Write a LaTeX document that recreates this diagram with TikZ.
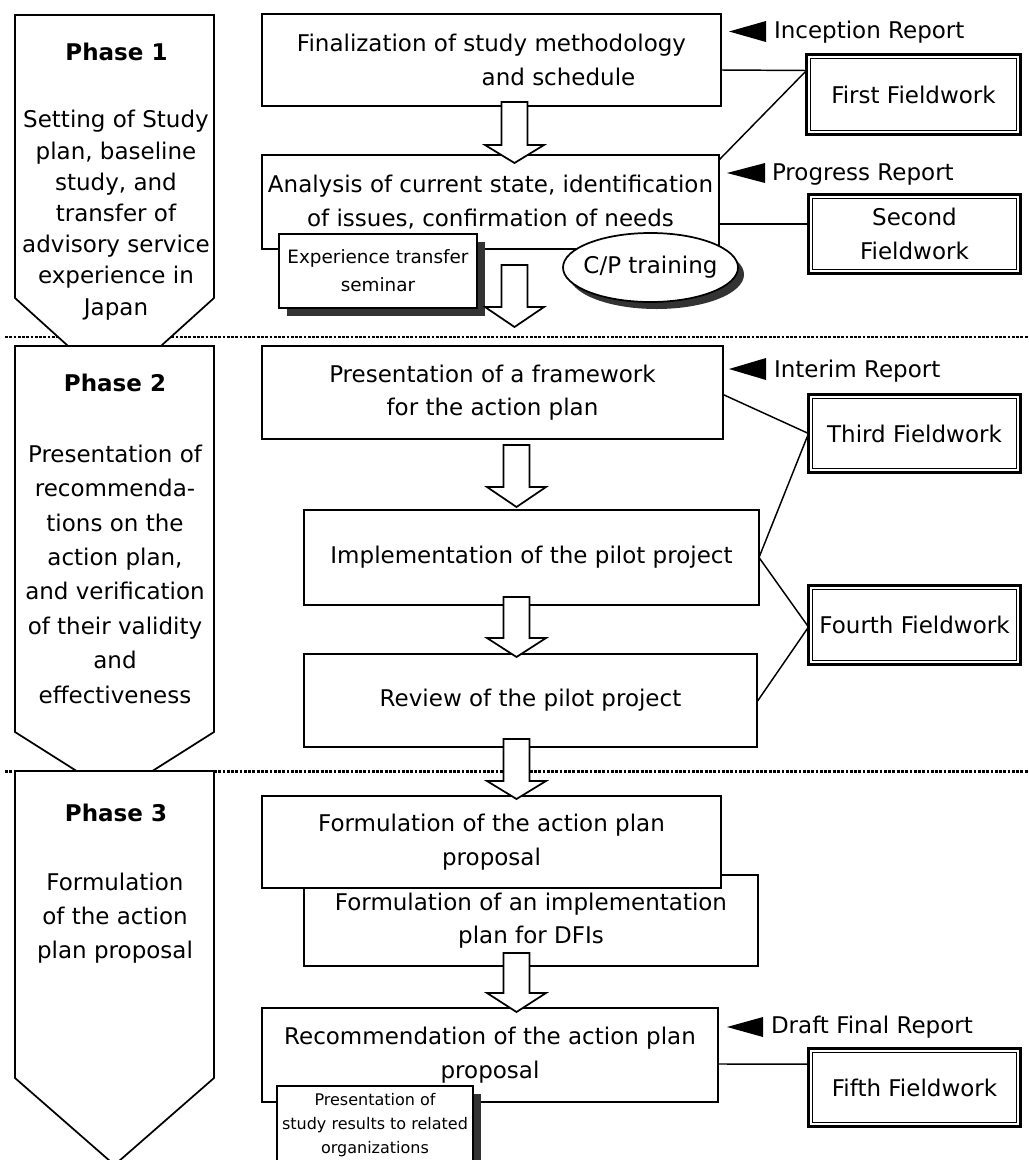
\documentclass[tikz,border=0pt]{standalone}
\usepackage{fontspec}
\setmainfont{DejaVu Sans}
\usetikzlibrary{shapes.geometric,calc}
\definecolor{shadowc}{RGB}{51,51,51}
\newcommand\pxu{0.75pt}
\begin{document}
\begin{tikzpicture}[x=0.75pt,y=-0.75pt,
  every node/.style={inner sep=0pt, outer sep=0pt},
  mainfont/.style={font=\fontsize{17.25pt}{25.1pt}\selectfont},
  stepbox/.style={draw, line width=1.3pt, fill=white, align=center, mainfont},
  field/.style={draw, line width=2.3pt, fill=white, align=center, mainfont},
  fieldinner/.style={line width=1.1pt},
  phaseshape/.style={draw, line width=1.3pt, fill=white, line join=miter},
  phasetitle/.style={font=\bfseries\fontsize{17.25pt}{20pt}\selectfont},
  phasetext/.style={align=center, anchor=north, font=\fontsize{17.25pt}{#1}\selectfont},
  conn/.style={line width=1.1pt},
  blockarrow/.style={draw, line width=1.3pt, fill=white, line join=miter},
  dotline/.style={line width=2pt, dash pattern=on 2.1pt off 1.1pt},
  report/.style={anchor=west, mainfont},
  tri/.style={fill=black},
  shadowed/.style={preaction={fill=shadowc, transform canvas={shift={(#1)}}}},
  pics/blkarrow/.style 2 args={code={
    \draw[blockarrow] (-13,0) -- (13,0) -- (13,#1) -- (29.5,#1) -- (0,#1+#2) -- (-29.5,#1) -- (-13,#1) -- cycle;}}
]
\useasboundingbox (0,0) rectangle (1028,1160);
\fill[white] (0,0) rectangle (1028,1160);

% dotted phase separators
\draw[dotline] (5,337) -- (1028,337);
\draw[dotline] (5,771.5) -- (1028,771.5);

% phase pentagons
\draw[phaseshape] (15,15) -- (214,15) -- (214,298) -- (114.5,388) -- (15,298) -- cycle;
\draw[phaseshape] (15,346) -- (214,346) -- (214,732) -- (114.5,795) -- (15,732) -- cycle;
\draw[phaseshape] (15,771) -- (214,771) -- (214,1078) -- (114.5,1165) -- (15,1078) -- cycle;

\node[phasetitle] (p1t) at (116.5,51.5) {Phase 1};
\node[phasetext=23.4pt] (p1d) at (116,110.5) {Setting of Study\\plan, baseline\\study, and\\transfer of\\advisory service\\experience in\\Japan};
\node[phasetitle] (p2t) at (115,383) {Phase 2};
\node[phasetext=25.8pt] (p2d) at (115,444.8) {Presentation of\\recommenda-\\tions on the\\action plan,\\and verification\\of their validity\\and\\effectiveness};
\node[phasetitle] (p3t) at (116,812.5) {Phase 3};
\node[phasetext=25.5pt] (p3d) at (115,873.5) {Formulation\\of the action\\plan proposal};

% main step boxes
\node[stepbox, minimum width=459*\pxu, minimum height=92*\pxu] (A) at (491.5,60)
  {Finalization of study methodology\\\hspace*{100.5pt}and schedule};
\node[stepbox, minimum width=457*\pxu, minimum height=94*\pxu] (B) at (490.5,202)
  {Analysis of current state, identification\\of issues, confirmation of needs};
\node[stepbox, minimum width=461*\pxu, minimum height=93*\pxu] (C) at (492.5,392.5)
  {Presentation of a framework\\for the action plan};
\node[stepbox, minimum width=455*\pxu, minimum height=95*\pxu] (D) at (531.5,557.5)
  {Implementation of the pilot project};
\node[stepbox, minimum width=453*\pxu, minimum height=93*\pxu] (E) at (530.5,700.5)
  {Review of the pilot project};
\node[stepbox, minimum width=454*\pxu, minimum height=91*\pxu] (G) at (531,920.5)
  {Formulation of an implementation\\plan for DFIs};
\node[stepbox, minimum width=459*\pxu, minimum height=92*\pxu] (F) at (491.5,842)
  {Formulation of the action plan\\proposal};
\node[stepbox, minimum width=456*\pxu, minimum height=94*\pxu] (H) at (490,1055)
  {Recommendation of the action plan\\proposal};

% side events
\node[stepbox, shadowed={6pt,-6pt}, minimum width=198*\pxu, minimum height=74*\pxu,
  font=\fontsize{13.8pt}{21pt}\selectfont] (exp) at (378,271) {Experience transfer\\seminar};
\node[ellipse, draw, line width=1.3pt, fill=white, shadowed={4.5pt,-5.25pt},
  minimum width=175*\pxu, minimum height=69*\pxu, mainfont] (cp) at (650.5,267.5) {\makebox[0pt]{C/P training}};
\node[stepbox, shadowed={6pt,-6pt}, minimum width=196*\pxu, minimum height=78*\pxu,
  font=\fontsize{12pt}{18pt}\selectfont] (pres) at (375,1125) {Presentation of\\study results to related\\organizations};

% block arrows
\pic at (514.5,102) {blkarrow={43}{18}};
\pic at (514.5,265) {blkarrow={42}{20}};
\pic at (516.5,445) {blkarrow={42}{20}};
\pic at (516.5,597) {blkarrow={41}{19}};
\pic at (516.5,739) {blkarrow={42}{18}};
\pic at (516.5,953) {blkarrow={40}{19}};

% fieldwork boxes
\node[field, minimum width=214*\pxu, minimum height=80*\pxu] (F1) at (913.5,94.5) {First Fieldwork};
\node[field, minimum width=212*\pxu, minimum height=79*\pxu] (F2) at (914.5,234) {Second\\Fieldwork};
\node[field, minimum width=212*\pxu, minimum height=78*\pxu] (F3) at (914.5,433.5) {Third Fieldwork};
\node[field, minimum width=212*\pxu, minimum height=79*\pxu] (F4) at (914.5,625) {Fourth Fieldwork};
\node[field, minimum width=212*\pxu, minimum height=78*\pxu] (F5) at (914.5,1087.5) {Fifth Fieldwork};
\foreach \f in {F1,F2,F3,F4,F5}
  \draw[fieldinner] ([shift={(3pt,3pt)}]\f.south west) rectangle ([shift={(-3pt,-3pt)}]\f.north east);

% connectors
\draw[conn] ([yshift=-7.5pt]A.east) -- ([yshift=18pt]F1.west);
\draw[conn] ([yshift=-3.75pt]B.north east) -- ([yshift=18pt]F1.west);
\draw[conn] ([yshift=-16.5pt]B.east) -- ([yshift=7.5pt]F2.west);
\draw[conn] ([yshift=-1.5pt]C.east) -- (F3.west);
\draw[conn] (D.east) -- (F3.west);
\draw[conn] (D.east) -- ([yshift=-1.5pt]F4.west);
\draw[conn] ([yshift=-1pt]E.east) -- ([yshift=-1.5pt]F4.west);
\draw[conn] ([yshift=-6.75pt]H.east) -- ([yshift=17.6pt]F5.west);

% reports
\fill[tri] (729,31.5) -- (766,21) -- (766,42) -- cycle;
\node[report] (r1) at (774,32.5) {Inception Report};
\fill[tri] (727,173) -- (765,163) -- (765,183) -- cycle;
\node[report] (r2) at (772,175) {Progress Report};
\fill[tri] (729,369) -- (766,358) -- (766,380) -- cycle;
\node[report] (r3) at (774,371) {Interim Report};
\fill[tri] (727,1027) -- (763,1017) -- (763,1037) -- cycle;
\node[report] (r4) at (771,1027) {Draft Final Report};
\end{tikzpicture}
\end{document}
